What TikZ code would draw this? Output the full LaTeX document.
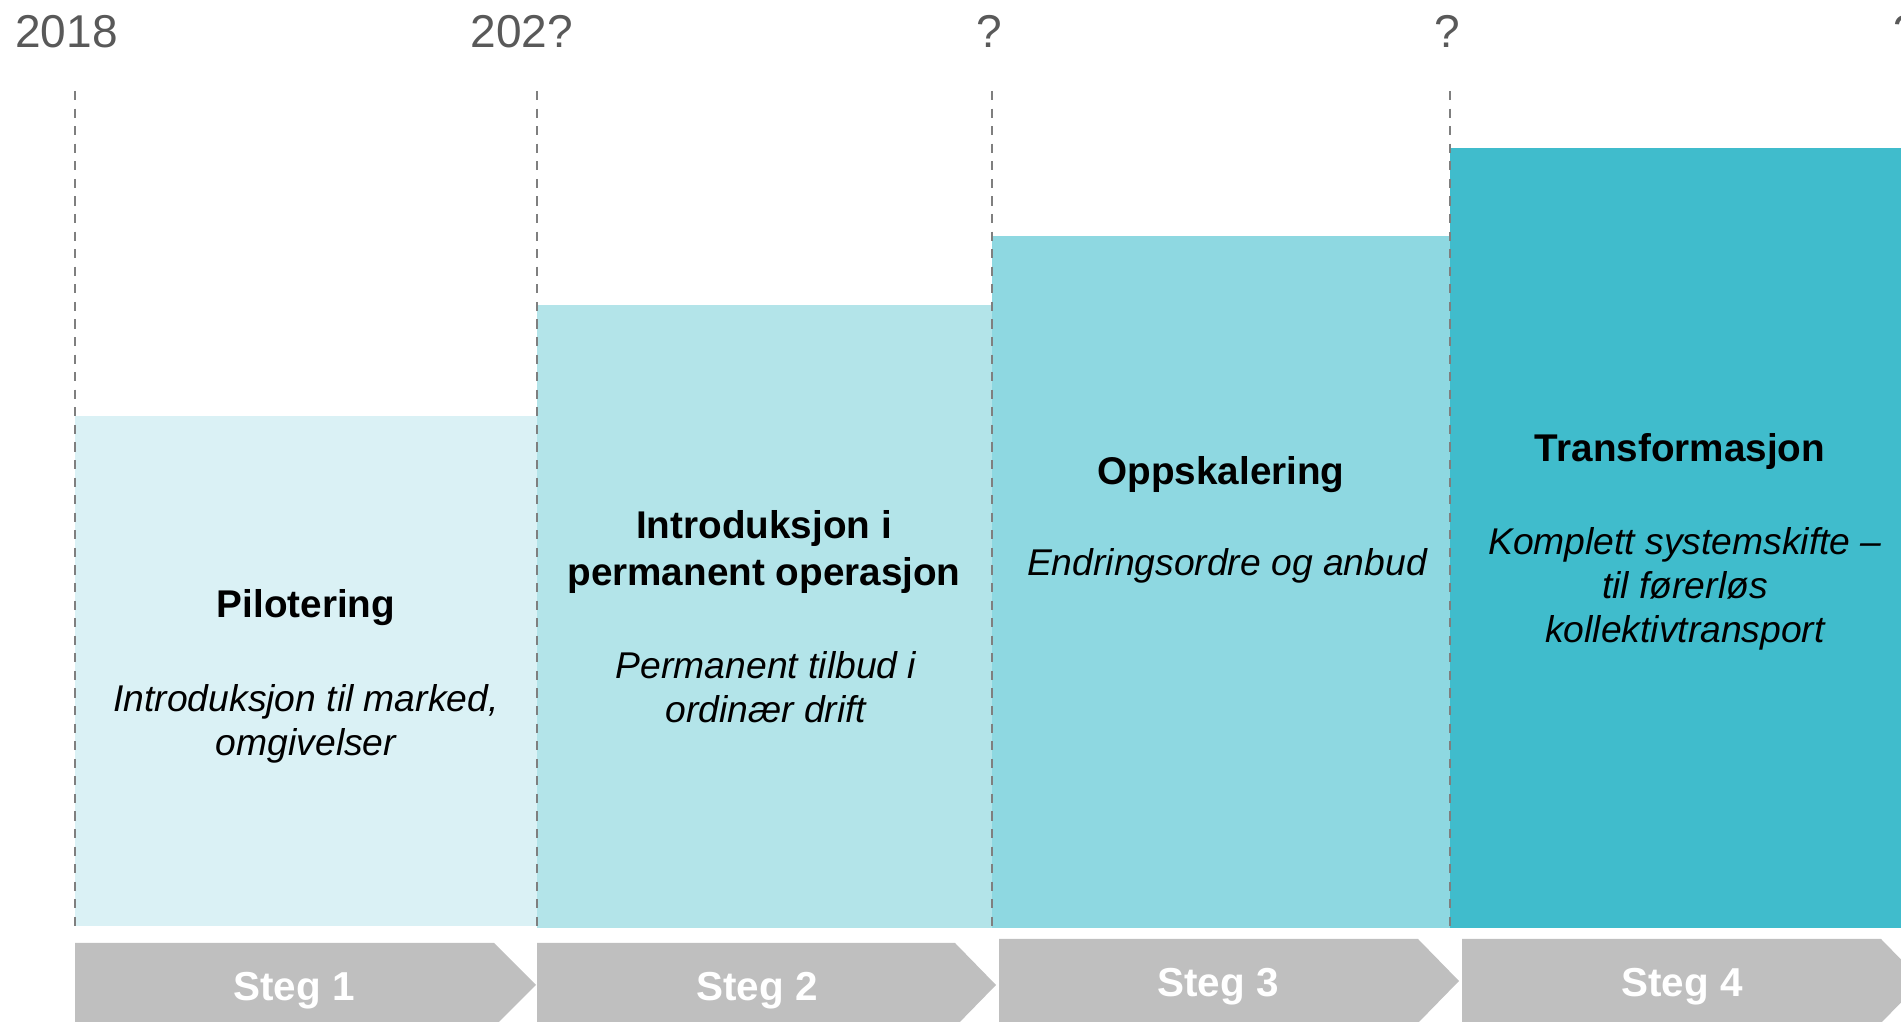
\documentclass[tikz,border=0pt]{standalone}
\usepackage{fontspec}
\setmainfont{Liberation Sans}
\usepackage{tikz}

\definecolor{fase1}{HTML}{DAF1F5}
\definecolor{fase2}{HTML}{B3E4E9}
\definecolor{fase3}{HTML}{8ED8E1}
\definecolor{fase4}{HTML}{40BCCC}
\definecolor{arrowgray}{HTML}{BFBFBF}
\definecolor{yeargray}{HTML}{595959}
\definecolor{dashgray}{HTML}{7F7F7F}

\tikzset{
  yearlabel/.style={text=yeargray, font=\fontsize{13.1}{15}\selectfont, anchor=base},
  phasetitle/.style={font=\bfseries\fontsize{11}{13.1}\selectfont, align=center},
  phasetext/.style={font=\itshape\fontsize{10.6}{12.6}\selectfont, align=center},
  steglabel/.style={text=white, font=\bfseries\fontsize{11.5}{13}\selectfont, anchor=base},
  milestone/.style={draw=dashgray, line width=0.75pt, dash pattern=on 2.6pt off 2.4pt}
}

\begin{document}
\begin{tikzpicture}
\useasboundingbox (0,0) rectangle (19.01,10.22);
\clip (0,0) rectangle (19.01,10.22);

% phases, rising step by step
\fill[fase1] (0.75,0.96) rectangle (5.37,6.06);
\fill[fase2] (5.37,0.94) rectangle (9.92,7.17);
\fill[fase3] (9.92,0.94) rectangle (14.50,7.86);
\fill[fase4] (14.50,0.94) rectangle (19.01,8.74);

% milestones
\draw[milestone] (0.75,9.31) -- (0.75,0.95);
\draw[milestone] (5.37,9.31) -- (5.37,0.95);
\draw[milestone] (9.92,9.31) -- (9.92,0.95);
\draw[milestone] (14.50,9.31) -- (14.50,0.95);

\node[yearlabel] (y2018) at (0.665,9.74) {2018};
\node[yearlabel] (y202x) at (5.22,9.74) {202?};
\node[yearlabel] (y3) at (9.89,9.74) {?};
\node[yearlabel] (y4) at (14.47,9.74) {?};
\node[yearlabel] (y5) at (19.06,9.74) {?};

% Steg 1
\node[phasetitle] (pilot) at (3.06,4.14) {Pilotering};
\node[phasetext] (pilottxt) at (3.06,2.98) {Introduksjon til marked,\\omgivelser};
\fill[arrowgray] (0.75,0.79) -- (4.94,0.79) -- (5.36,0.37) -- (4.94,-0.05) -- (0.75,-0.05) -- cycle;
\node[steglabel] (steg1) at (2.94,0.21) {Steg 1};

% Steg 2
\node[phasetitle] (intro) at (7.64,4.70) {Introduksjon i\\permanent operasjon};
\node[phasetext] (introtxt) at (7.66,3.35) {Permanent tilbud i\\ordinær drift};
\fill[arrowgray] (5.37,0.79) -- (9.55,0.79) -- (9.96,0.37) -- (9.55,-0.05) -- (5.37,-0.05) -- cycle;
\node[steglabel] (steg2) at (7.57,0.21) {Steg 2};

% Steg 3
\node[phasetitle] (skal) at (12.21,5.47) {Oppskalering};
\node[phasetext] (skaltxt) at (12.27,4.56) {Endringsordre og anbud};
\fill[arrowgray] (9.99,0.83) -- (14.18,0.83) -- (14.59,0.41) -- (14.18,-0.01) -- (9.99,-0.01) -- cycle;
\node[steglabel] (steg3) at (12.18,0.25) {Steg 3};

% Steg 4
\node[phasetitle] (trans) at (16.80,5.70) {Transformasjon};
\node[phasetext] (transtxt) at (16.85,4.33) {Komplett systemskifte –\\til førerløs\\kollektivtransport};
\fill[arrowgray] (14.62,0.83) -- (18.81,0.83) -- (19.22,0.41) -- (18.81,-0.01) -- (14.62,-0.01) -- cycle;
\node[steglabel] (steg4) at (16.82,0.25) {Steg 4};
\end{tikzpicture}
\end{document}
